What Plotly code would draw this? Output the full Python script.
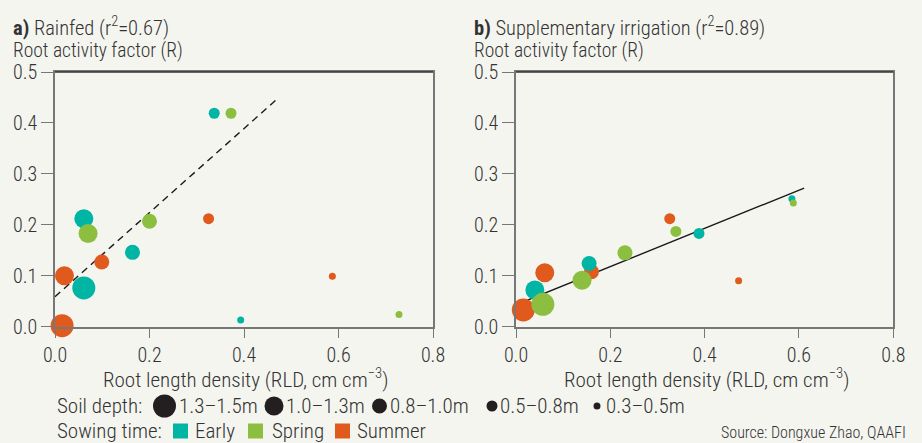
import plotly.graph_objects as go

# ---------------- data ----------------
depth_labels = ["1.3–1.5m", "1.0–1.3m", "0.8–1.0m", "0.5–0.8m", "0.3–0.5m"]
sowing_labels = ["Early", "Spring", "Summer"]

# Panel a (Rainfed): RLD, R, depth index
a_early_x = [0.061, 0.061, 0.164, 0.337, 0.393]
a_early_y = [0.076, 0.212, 0.146, 0.419, 0.013]
a_early_d = [0, 1, 2, 3, 4]
a_spring_x = [0.070, 0.200, 0.3725, 0.728]
a_spring_y = [0.183, 0.207, 0.419, 0.024]
a_spring_d = [1, 2, 3, 4]
a_summer_x = [0.015, 0.020, 0.099, 0.325, 0.587]
a_summer_y = [0.002, 0.100, 0.127, 0.212, 0.099]
a_summer_d = [0, 1, 2, 3, 4]

# Panel b (Supplementary irrigation)
b_early_x = [0.040, 0.155, 0.388, 0.585]
b_early_y = [0.072, 0.124, 0.183, 0.251]
b_early_d = [1, 2, 3, 4]
b_spring_x = [0.057, 0.140, 0.231, 0.339, 0.588]
b_spring_y = [0.044, 0.091, 0.145, 0.187, 0.243]
b_spring_d = [0, 1, 2, 3, 4]
b_summer_x = [0.0155, 0.061, 0.160, 0.326, 0.472]
b_summer_y = [0.033, 0.106, 0.108, 0.212, 0.090]
b_summer_d = [0, 1, 2, 3, 4]

# regression lines (intercept, slope, x range)
a_fit = (0.059, 0.825, 0.0, 0.469)
b_fit = (0.043, 0.375, 0.0, 0.611)

x_ticks = [0.0, 0.2, 0.4, 0.6, 0.8]
y_ticks = [0.0, 0.1, 0.2, 0.3, 0.4, 0.5]

# ---------------- style ----------------
W, H = 922, 443
BG = "#f5f5f0"
TXT = "#333333"
AX = "#777777"
FONT = "Roboto Condensed, Liberation Sans Narrow, DejaVu Sans Condensed, sans-serif"
colors = {"Early": "#00b5a3", "Spring": "#8cbf3f", "Summer": "#df5a1c"}
depth_sizes = [23, 19, 15, 11, 7]

fig = go.Figure()

panels = [
    ("x", "y", [("Summer", a_summer_x, a_summer_y, a_summer_d),
                ("Early", a_early_x, a_early_y, a_early_d),
                ("Spring", a_spring_x, a_spring_y, a_spring_d)], a_fit, "dash"),
    ("x2", "y2", [("Summer", b_summer_x, b_summer_y, b_summer_d),
                  ("Early", b_early_x, b_early_y, b_early_d),
                  ("Spring", b_spring_x, b_spring_y, b_spring_d)], b_fit, "solid"),
]

for xa, ya, series, fit, dash in panels:
    b0, b1, x0, x1 = fit
    fig.add_trace(go.Scatter(
        x=[x0, x1], y=[b0 + b1 * x0, b0 + b1 * x1], mode="lines",
        line=dict(color="#1a1a1a", width=1.4, dash="7px,5px" if dash == "dash" else "solid"),
        xaxis=xa, yaxis=ya, showlegend=False, hoverinfo="skip"))
    for name, xs, ys, ds in series:
        fig.add_trace(go.Scatter(
            x=xs, y=ys, mode="markers", name=name,
            marker=dict(color=colors[name], size=[depth_sizes[d] for d in ds],
                        line=dict(width=0), opacity=1),
            xaxis=xa, yaxis=ya, showlegend=False,
            cliponaxis=False))

def px(x):
    return x / W

def py(y):
    return 1 - y / H

ydom = [py(326.7), py(72)]
axis_common = dict(
    showline=True, linecolor=AX, linewidth=1.5, mirror=True,
    ticks="outside", tickcolor=AX, tickwidth=1.2,
    showgrid=False, zeroline=False, automargin=False,
    tickfont=dict(family=FONT, size=20, color=TXT, weight=300),
)
fig.update_layout(
    xaxis=dict(domain=[px(55), px(433)], range=[0, 0.8], tickvals=x_ticks,
               ticktext=[f"{v:.1f}" for v in x_ticks], ticklen=10, anchor="y", **axis_common),
    yaxis=dict(domain=ydom, range=[0, 0.5], tickvals=y_ticks,
               ticktext=[f"{v:.1f}" for v in y_ticks], ticklen=12, anchor="x", **axis_common),
    xaxis2=dict(domain=[px(516), px(893.3)], range=[0, 0.8], tickvals=x_ticks,
                ticktext=[f"{v:.1f}" for v in x_ticks], ticklen=10, anchor="y2", **axis_common),
    yaxis2=dict(domain=ydom, range=[0, 0.5], tickvals=y_ticks,
                ticktext=[f"{v:.1f}" for v in y_ticks], ticklen=12, anchor="x2", **axis_common),
)

# darker top border lines
shapes = []
for x0, x1 in [(55, 433), (516, 893.3)]:
    shapes.append(dict(type="line", xref="paper", yref="paper", x0=px(x0), x1=px(x1),
                       y0=py(72), y1=py(72), line=dict(color="#333333", width=1.5)))

ann = []
def text(x, y, s, size=20, xanchor="left", color=TXT, weight=300):
    ann.append(dict(x=px(x), y=py(y), xref="paper", yref="paper", text=s, showarrow=False,
                    xanchor=xanchor, yanchor="middle",
                    font=dict(family=FONT, size=size, color=color, weight=weight)))

text(11, 26, "<b>a)</b> Rainfed (r<sup>2</sup>=0.67)", size=20.5)
text(11, 51, "Root activity factor (R)", size=19.5)
text(472, 26, "<b>b)</b> Supplementary irrigation (r<sup>2</sup>=0.89)", size=20.5)
text(472, 51, "Root activity factor (R)", size=19.5)
text(245, 378, "Root length density (RLD, cm cm<sup>−3</sup>)", xanchor="center", size=21)
text(706, 378, "Root length density (RLD, cm cm<sup>−3</sup>)", xanchor="center", size=21)

# legend: soil depth
row1 = 406
text(55, row1, "Soil depth:", size=21)
circ_cx = [164.5, 274, 379.5, 492, 597]
lab_x = [177, 284, 388, 498, 604]
for d, lbl in enumerate(depth_labels):
    r = depth_sizes[d] / 2
    shapes.append(dict(type="circle", xref="paper", yref="paper",
                       x0=px(circ_cx[d] - r), x1=px(circ_cx[d] + r),
                       y0=py(row1 + r), y1=py(row1 - r),
                       fillcolor="#231f20", line=dict(width=0)))
    text(lab_x[d], row1, lbl, size=21)

# legend: sowing time
row2 = 431
text(55, row2, "Sowing time:", size=21)
sq_x = [173, 248, 335]
sl_x = [193, 270, 355]
for i, lbl in enumerate(sowing_labels):
    shapes.append(dict(type="rect", xref="paper", yref="paper",
                       x0=px(sq_x[i]), x1=px(sq_x[i] + 15),
                       y0=py(row2 + 7.5), y1=py(row2 - 7.5),
                       fillcolor=colors[lbl], line=dict(width=0)))
    text(sl_x[i], row2, lbl, size=21)

text(908, 432, "Source: Dongxue Zhao, QAAFI", size=16, xanchor="right")

fig.update_layout(
    width=W, height=H, margin=dict(l=0, r=0, t=0, b=0, pad=0),
    paper_bgcolor=BG, plot_bgcolor=BG,
    shapes=shapes, annotations=ann, showlegend=False,
    font=dict(family=FONT, color=TXT),
)

fig.write_html("out.html", config={"displayModeBar": False},
               post_script="document.body.style.margin='0px';document.body.style.background='%s';" % BG)
